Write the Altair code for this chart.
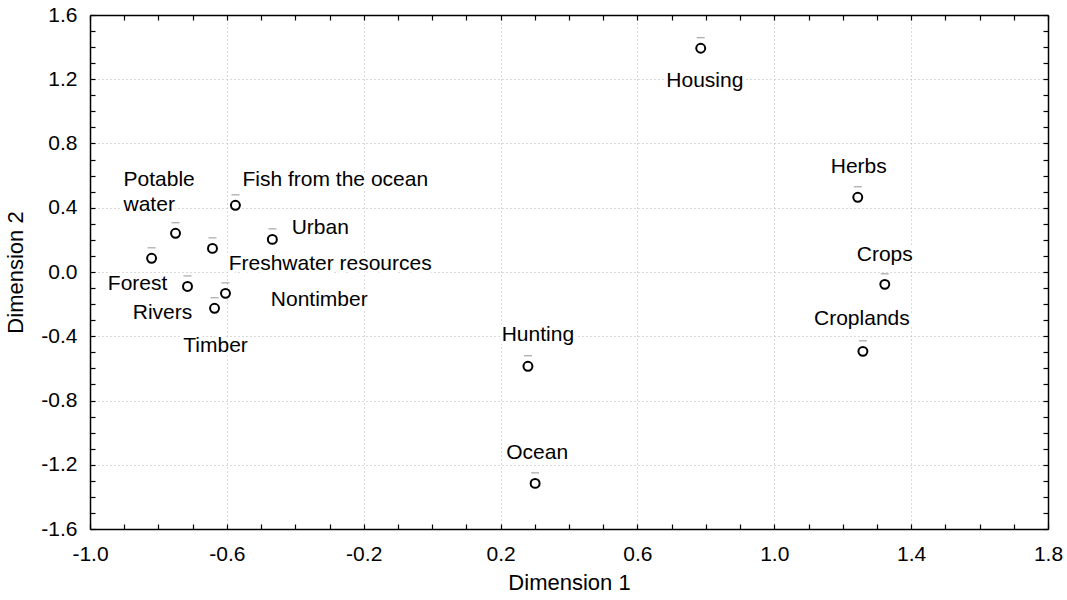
import altair as alt
import pandas as pd

# Point data (Dimension 1, Dimension 2)
names = ["Housing", "Herbs", "Crops", "Croplands", "Hunting", "Ocean",
         "Fish from the ocean", "Urban", "Potable water", "Freshwater resources",
         "Forest", "Rivers", "Nontimber", "Timber"]
dim1 = [0.785, 1.244, 1.323, 1.259, 0.280, 0.301,
        -0.575, -0.467, -0.750, -0.642, -0.820, -0.715, -0.604, -0.636]
dim2 = [1.393, 0.465, -0.077, -0.494, -0.587, -1.316,
        0.415, 0.203, 0.241, 0.147, 0.085, -0.090, -0.133, -0.226]

# Label anchor positions (data units)
label_text = ["Housing", "Herbs", "Crops", "Croplands", "Hunting", "Ocean",
              "Fish from the ocean", "Urban", "Potable\nwater", "Freshwater resources",
              "Forest", "Rivers", "Nontimber", "Timber"]
label_x = [0.797, 1.247, 1.323, 1.256, 0.309, 0.307,
           -0.283, -0.327, -0.902, -0.298, -0.861, -0.788, -0.330, -0.633]
label_y = [1.187, 0.652, 0.104, -0.295, -0.394, -1.129,
           0.571, 0.272, 0.571, 0.048, -0.077, -0.257, -0.176, -0.463]
label_left = [False, False, False, False, False, False,
              False, False, True, False, False, False, False, False]

# Axis tick values (every 0.1; labels every 0.4)
x_ticks = [round(-1.0 + 0.1 * i, 1) for i in range(29)]
y_ticks = [round(-1.6 + 0.1 * i, 1) for i in range(33)]

pts = pd.DataFrame({"name": names, "d1": dim1, "d2": dim2})
labs = pd.DataFrame({"text": label_text, "lx": label_x, "ly": label_y, "left": label_left})

FONT = "Liberation Sans"
FS_LAB = 21
FS_TICK = 21
FS_TITLE = 22

x_major = "(round(datum.value*10)+10)%4==0"
y_major = "(round(datum.value*10)+16)%4==0"

xscale = alt.Scale(domain=[-1.0, 1.8], nice=False, zero=False)
yscale = alt.Scale(domain=[-1.6, 1.6], nice=False, zero=False)

common_tick = dict(tickSize={"expr": "-5"}, tickColor="black", tickWidth=1.2,
                   domainColor="black", domainWidth=1.5)

x_axis = alt.Axis(
    orient="bottom", values=x_ticks, title="Dimension 1", titleFont=FONT,
    titleFontSize=FS_TITLE, titleFontWeight="normal", titleColor="black", titlePadding=8,
    labelFont=FONT, labelFontSize=FS_TICK, labelColor="black", labelPadding=19,
    labelExpr=f"{x_major} ? replace(format(datum.value, '.1f'), '\u2212', '-') : ''",
    labelFlush=False, labelOverlap=False,
    grid=True, gridColor="#b5b5b5", gridDash=[1, 3], gridWidth=1,
    gridOpacity={"condition": {"test": x_major, "value": 1}, "value": 0},
    **common_tick,
)
y_axis = alt.Axis(
    orient="left", values=y_ticks, title="Dimension 2", titleFont=FONT,
    titleFontSize=FS_TITLE, titleFontWeight="normal", titleColor="black", titlePadding=13,
    labelFont=FONT, labelFontSize=FS_TICK, labelColor="black", labelPadding=18,
    labelExpr=f"{y_major} ? replace(format(datum.value, '.1f'), '\u2212', '-') : ''",
    labelFlush=False, labelOverlap=False,
    grid=True, gridColor="#b5b5b5", gridDash=[1, 3], gridWidth=1,
    gridOpacity={"condition": {"test": y_major, "value": 1}, "value": 0},
    **common_tick,
)
x_axis2 = alt.Axis(orient="top", values=x_ticks, labels=False, title=None, grid=False,
                   **common_tick)
y_axis2 = alt.Axis(orient="right", values=y_ticks, labels=False, title=None, grid=False,
                   **common_tick)

base_pts = alt.Chart(pts)
base_labs = alt.Chart(labs)

main_axes = base_pts.mark_point(opacity=0).encode(
    x=alt.X("d1:Q", scale=xscale, axis=x_axis),
    y=alt.Y("d2:Q", scale=yscale, axis=y_axis),
)
frame_axes = base_pts.mark_point(opacity=0).encode(
    x=alt.X("d1:Q", scale=xscale, axis=x_axis2),
    y=alt.Y("d2:Q", scale=yscale, axis=y_axis2),
)

points = base_pts.mark_point(shape="circle", size=80, filled=False,
                             stroke="black", strokeWidth=2, fill="white", fillOpacity=1).encode(
    x=alt.X("d1:Q", scale=xscale, axis=None),
    y=alt.Y("d2:Q", scale=yscale, axis=None),
)

bars = base_pts.mark_tick(orient="horizontal", size=8, thickness=1, color="#666666",
                          yOffset=-10.5).encode(
    x=alt.X("d1:Q", scale=xscale, axis=None),
    y=alt.Y("d2:Q", scale=yscale, axis=None),
)


def text_layer(left, halo):
    props = dict(font=FONT, fontSize=FS_LAB, baseline="middle", lineBreak="\n", lineHeight=25,
                 align="left" if left else "center")
    if halo:
        props.update(stroke="white", strokeWidth=7, fill="white", strokeJoin="round")
    else:
        props.update(color="black")
    return base_labs.transform_filter(
        f"datum.left == {'true' if left else 'false'}"
    ).mark_text(**props).encode(
        x=alt.X("lx:Q", scale=xscale, axis=None),
        y=alt.Y("ly:Q", scale=yscale, axis=None),
        text="text:N",
    )


chart = alt.layer(
    main_axes,
    frame_axes,
    text_layer(False, True), text_layer(True, True),
    text_layer(False, False), text_layer(True, False),
    bars, points,
).resolve_axis(x="independent", y="independent").properties(
    width=958, height=514,
    autosize=alt.AutoSizeParams(type="none"),
    padding={"left": 90, "top": 15, "right": 19, "bottom": 71},
).configure_view(stroke=None).configure(background="white")

chart.save("out.html", embed_options={"renderer": "svg", "actions": False})
